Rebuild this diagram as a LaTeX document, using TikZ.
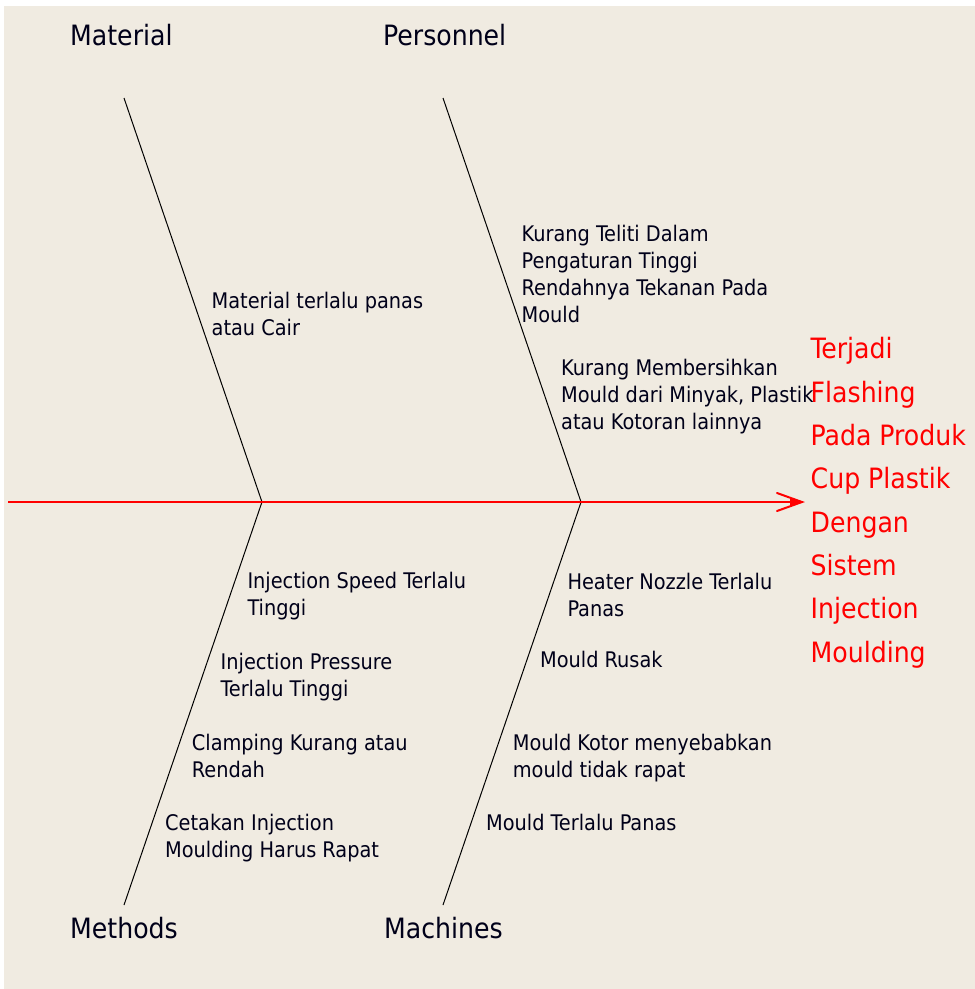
\documentclass[tikz,border=0pt]{standalone}
\usepackage{fontspec}
\setmainfont{DejaVu Sans Condensed}
\definecolor{bg}{RGB}{240,235,225}
\begin{document}
\begin{tikzpicture}[x=1pt,y=-1pt,
  cause/.style={anchor=north west, inner sep=0pt, align=left, text=black!90!blue,
    font=\fontsize{21.5}{27}\selectfont},
  cat/.style={anchor=north west, inner sep=0pt, text=black!90!blue,
    font=\fontsize{28}{34}\selectfont},
  effect/.style={anchor=north west, inner sep=0pt, align=left, text=red,
    font=\fontsize{28}{43.3}\selectfont},
  bone/.style={line width=1pt, black},
  spine/.style={line width=1.5pt, red}]
\useasboundingbox (0,0) rectangle (975,989);
\fill[white] (0,0) rectangle (975,989);
\fill[bg] (4,6) rectangle (975,989);

% bone coordinates
\coordinate (mt) at (124,98);
\coordinate (j1) at (262,502);
\coordinate (mb) at (124,905);
\coordinate (pt) at (443,98);
\coordinate (j2) at (581,502);
\coordinate (pb) at (443,905);
\coordinate (s) at (8,502);
\coordinate (tip) at (802,502);
\coordinate (w1) at (777,493);
\coordinate (w2) at (777,511);

\draw[bone] (mt) -- (j1) -- (mb);
\draw[bone] (pt) -- (j2) -- (pb);
\draw[spine] (s) -- (tip);
\draw[red, line width=2pt, line cap=round, line join=miter] (w1) -- (tip) -- (w2);
\fill[red] (790,498) -- (tip) -- (790,506) -- cycle;

% category labels
\node[cat] (material) at (70,24.5) {Material};
\node[cat] (personnel) at (383,24.5) {Personnel};
\node[cat] (methods) at (70,917.5) {Methods};
\node[cat] (machines) at (384,917.5) {Machines};

% causes
\node[cause] (c1) at (211.5,292) {Material terlalu panas\\atau Cair};
\node[cause] (c2) at (521.5,225.3) {Kurang Teliti Dalam\\Pengaturan Tinggi\\Rendahnya Tekanan Pada\\Mould};
\node[cause] (c3) at (561,359.3) {Kurang Membersihkan\\Mould dari Minyak, Plastik\\atau Kotoran lainnya};
\node[cause] (c4) at (247.3,572) {Injection Speed Terlalu\\Tinggi};
\node[cause] (c5) at (220.5,652.6) {Injection Pressure\\Terlalu Tinggi};
\node[cause] (c6) at (191.7,734.3) {Clamping Kurang atau\\Rendah};
\node[cause] (c7) at (165,814.3) {Cetakan Injection\\Moulding Harus Rapat};
\node[cause] (c8) at (567.3,572.6) {Heater Nozzle Terlalu\\Panas};
\node[cause] (c9) at (540,651) {Mould Rusak};
\node[cause] (c10) at (512.7,734.3) {Mould Kotor menyebabkan\\mould tidak rapat};
\node[cause] (c11) at (486,814.3) {Mould Terlalu Panas};

% effect
\node[effect] (eff) at (810.5,337.5) {Terjadi\\Flashing\\Pada Produk\\Cup Plastik\\Dengan\\Sistem\\Injection\\Moulding};
\end{tikzpicture}
\end{document}
